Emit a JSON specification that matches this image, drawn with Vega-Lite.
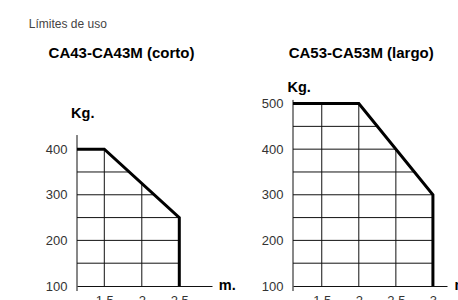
{
  "$schema": "https://vega.github.io/schema/vega-lite/v6.json",
  "background": "white",
  "padding": {"left": 28, "top": 17, "right": 0, "bottom": 0},
  "title": {"text": "Límites de uso", "anchor": "start", "frame": "group", "dx": -48.2, "offset": 5.9, "baseline": "alphabetic", "fontSize": 12, "fontWeight": "normal", "font": "Liberation Sans", "color": "#444"},
  "spacing": 25,
  "datasets": {
    "lines": [
      {"p": "L", "o": 1, "x": 1.136, "y": 400},
      {"p": "L", "o": 2, "x": 1.5, "y": 400},
      {"p": "L", "o": 3, "x": 2.5, "y": 250},
      {"p": "L", "o": 4, "x": 2.5, "y": 100},
      {"p": "R", "o": 1, "x": 1.112, "y": 500},
      {"p": "R", "o": 2, "x": 2, "y": 500},
      {"p": "R", "o": 3, "x": 3, "y": 300},
      {"p": "R", "o": 4, "x": 3, "y": 100}
    ],
    "grid": [
      {"p": "L", "x": 1.136, "x2": 1.136, "y": 89, "y2": 431},
      {"p": "L", "x": 1.136, "x2": 1.833, "y": 350, "y2": 350},
      {"p": "L", "x": 1.136, "x2": 2.167, "y": 300, "y2": 300},
      {"p": "L", "x": 1.136, "x2": 2.5, "y": 250, "y2": 250},
      {"p": "L", "x": 1.136, "x2": 2.5, "y": 200, "y2": 200},
      {"p": "L", "x": 1.136, "x2": 2.5, "y": 150, "y2": 150},
      {"p": "L", "x": 1.5, "x2": 1.5, "y": 100, "y2": 400},
      {"p": "L", "x": 2, "x2": 2, "y": 100, "y2": 325},
      {"p": "R", "x": 1.112, "x2": 1.112, "y": 89, "y2": 508},
      {"p": "R", "x": 1.112, "x2": 2.25, "y": 450, "y2": 450},
      {"p": "R", "x": 1.112, "x2": 2.5, "y": 400, "y2": 400},
      {"p": "R", "x": 1.112, "x2": 2.75, "y": 350, "y2": 350},
      {"p": "R", "x": 1.112, "x2": 3, "y": 300, "y2": 300},
      {"p": "R", "x": 1.112, "x2": 3, "y": 250, "y2": 250},
      {"p": "R", "x": 1.112, "x2": 3, "y": 200, "y2": 200},
      {"p": "R", "x": 1.112, "x2": 3, "y": 150, "y2": 150},
      {"p": "R", "x": 1.5, "x2": 1.5, "y": 100, "y2": 500},
      {"p": "R", "x": 2, "x2": 2, "y": 100, "y2": 500},
      {"p": "R", "x": 2.5, "x2": 2.5, "y": 100, "y2": 400}
    ]
  },
  "hconcat": [
    {
      "width": 135,
      "height": 187,
      "title": {"text": "CA43-CA43M (corto)", "anchor": "start", "frame": "group", "dx": -28.4, "offset": 26.1, "baseline": "alphabetic", "fontSize": 15, "fontWeight": "bold", "font": "Liberation Sans", "color": "#000"},
      "encoding": {
        "x": {"field": "x", "type": "quantitative", "scale": {"domain": [1.136, 2.936], "nice": false, "zero": false},
          "axis": {"values": [1.5, 2, 2.5], "format": "~g", "title": "m.", "titleX": 141.3, "titleY": 3, "titleAlign": "left", "titleBaseline": "alphabetic", "labelPadding": 8}},
        "y": {"field": "y", "type": "quantitative", "scale": {"domain": [100, 510], "nice": false, "zero": false},
          "axis": {"values": [100, 200, 300, 400], "format": "d", "title": "Kg.", "titleAngle": 0, "titleX": -6.4, "titleY": 18.3, "titleAlign": "left", "titleBaseline": "alphabetic", "domain": false, "labelPadding": 10}}
      },
      "layer": [
        {"data": {"name": "grid"}, "transform": [{"filter": "datum.p == 'L'"}],
          "mark": {"type": "rule", "color": "#111", "strokeWidth": 1},
          "encoding": {"x2": {"field": "x2"}, "y2": {"field": "y2"}}},
        {"data": {"name": "lines"}, "transform": [{"filter": "datum.p == 'L'"}],
          "mark": {"type": "line", "color": "#000", "strokeWidth": 3, "strokeJoin": "miter"},
          "encoding": {"order": {"field": "o", "type": "quantitative"}}}
      ]
    },
    {
      "width": 154,
      "height": 187,
      "title": {"text": "CA53-CA53M (largo)", "anchor": "start", "frame": "group", "dx": -4.3, "offset": 6.5, "baseline": "alphabetic", "fontSize": 15, "fontWeight": "bold", "font": "Liberation Sans", "color": "#000"},
      "encoding": {
        "x": {"field": "x", "type": "quantitative", "scale": {"domain": [1.112, 3.19], "nice": false, "zero": false},
          "axis": {"values": [1.5, 2, 2.5, 3], "format": "~g", "title": "m.", "titleX": 161, "titleY": 3, "titleAlign": "left", "titleBaseline": "alphabetic", "labelPadding": 8}},
        "y": {"field": "y", "type": "quantitative", "scale": {"domain": [100, 510], "nice": false, "zero": false},
          "axis": {"values": [100, 200, 300, 400, 500], "format": "d", "title": "Kg.", "titleAngle": 0, "titleX": -6, "titleY": -8, "titleAlign": "left", "titleBaseline": "alphabetic", "domain": false, "labelPadding": 10}}
      },
      "layer": [
        {"data": {"name": "grid"}, "transform": [{"filter": "datum.p == 'R'"}],
          "mark": {"type": "rule", "color": "#111", "strokeWidth": 1},
          "encoding": {"x2": {"field": "x2"}, "y2": {"field": "y2"}}},
        {"data": {"name": "lines"}, "transform": [{"filter": "datum.p == 'R'"}],
          "mark": {"type": "line", "color": "#000", "strokeWidth": 3, "strokeJoin": "miter"},
          "encoding": {"order": {"field": "o", "type": "quantitative"}}}
      ]
    }
  ],
  "config": {
    "view": {"stroke": null},
    "axis": {
      "grid": false, "ticks": false, "tickSize": 0, "labelFlush": false,
      "domainColor": "#111", "domainWidth": 1,
      "labelFont": "Liberation Sans", "labelFontSize": 13, "labelColor": "#333",
      "titleFont": "Liberation Sans", "titleFontSize": 14.5, "titleFontWeight": "bold", "titleColor": "#000"
    }
  }
}
